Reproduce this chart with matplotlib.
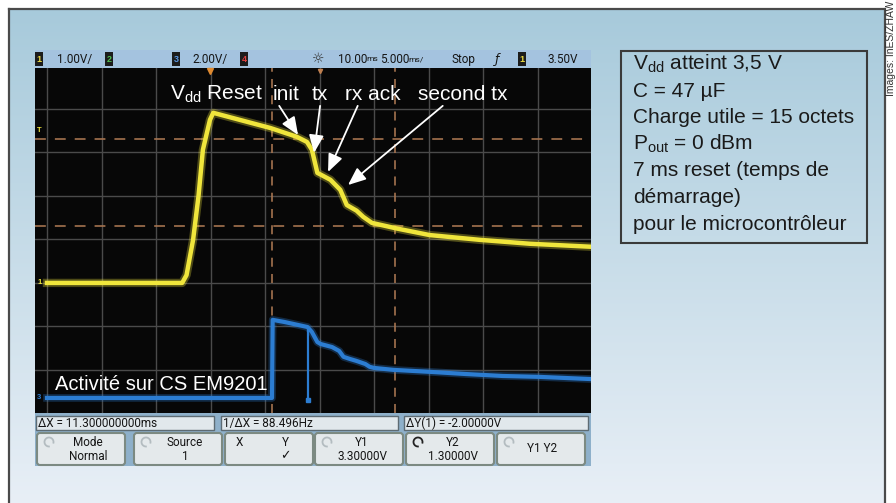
import numpy as np
import matplotlib
matplotlib.use('Agg')
import matplotlib.pyplot as plt
from matplotlib.patches import Rectangle, FancyBboxPatch, Arc

plt.rcParams['font.family'] = ['Liberation Sans', 'DejaVu Sans']
plt.rcParams['mathtext.fontset'] = 'custom'
plt.rcParams['mathtext.rm'] = 'Liberation Sans'
plt.rcParams['mathtext.it'] = 'Liberation Sans:italic'

# ---------------- data (time in ms, volts) ----------------
# Channel 1 : Vdd (1 V/div)
t_vdd = [0, 12.4, 12.8, 13.4, 13.9, 14.3, 14.95, 15.25, 20.5, 22.9, 23.85, 24.3,
         24.8, 26.0, 26.9, 27.5, 28.4, 29.0, 29.8, 32.1, 35.1, 39.7, 44.3, 50]
v_vdd = [0, 0, 0.18, 0.99, 2.0, 3.06, 3.75, 3.91, 3.56, 3.36, 3.24, 3.06,
         2.53, 2.37, 2.14, 1.79, 1.66, 1.52, 1.38, 1.25, 1.10, 0.99, 0.90, 0.83]
# Channel 3 : CS EM9201 (2 V/div)
t_cs = [0, 20.64, 20.7, 21.8, 23.9, 24.3, 24.8, 25.1, 26.15, 26.8, 27.2, 27.8,
        28.4, 29.2, 29.6, 30.0, 31.8, 35.1, 38.4, 41.8, 45.1, 49.8]
v_cs = [0, 0, 3.59, 3.49, 3.26, 3.03, 2.57, 2.48, 2.34, 2.16, 1.89, 1.79,
        1.70, 1.56, 1.43, 1.38, 1.29, 1.20, 1.10, 1.01, 0.97, 0.87]
cs_glitch_t = 23.9
cs_glitch_v = -0.1
cs_volts_per_div = 2.0
cs_ground_div = -2.644
cursor_x = [20.64, 31.94]
cursor_y = [3.3, 1.3]
trigger_t = 14.95
trigger_level = 3.5

header_texts = ['1.00V/', '2.00V/', 'Stop', '3.50V']
header_times = [('10.00', 'ms'), ('5.000', 'ms/')]
readouts = ['\u0394X = 11.300000000ms', '1/\u0394X = 88.496Hz', '\u0394Y(1) = -2.00000V']
buttons = [('Mode', 'Normal'), ('Source', '1'), ('X', 'Y'), ('Y1', '3.30000V'),
           ('Y2', '1.30000V'), ('Y1 Y2', '')]
labels = ['init', 'tx', 'rx ack', 'second tx']
label_tips = [(23.03, 3.40), (24.50, 2.99), (25.78, 2.55), (27.61, 2.25)]
label_tails = [(21.3, 4.07), (25.05, 4.07), (28.5, 4.07), (36.3, 4.07)]
info_lines = [r'$\mathregular{V_{dd}}$ atteint 3,5 V', 'C = 47 \u00b5F',
              'Charge utile = 15 octets', r'$\mathregular{P_{out}}$ = 0 dBm',
              '7 ms reset (temps de', 'd\u00e9marrage)', 'pour le microcontr\u00f4leur']

# ---------------- figure ----------------
W, H = 896, 503
fig = plt.figure(figsize=(W / 100, H / 100), dpi=100)
fig.patch.set_facecolor('white')


def rect(x0, y0, x1, y1):
    return [x0 / W, 1 - y1 / H, (x1 - x0) / W, (y1 - y0) / H]


bg = fig.add_axes([0, 0, 1, 1])
bg.set_xlim(0, W)
bg.set_ylim(H, 0)
bg.axis('off')

c0 = np.array([0.655, 0.792, 0.859])
c1 = np.array([0.910, 0.937, 0.965])
f = np.linspace(0, 1, 256)[:, None]
grad = (c0[None, :] * (1 - f) + c1[None, :] * f)[:, None, :]
bg.imshow(grad, extent=(9, 884, 503, 8), aspect='auto', interpolation='bilinear')
fc = '#4a4a4a'
bg.plot([9, 9], [503, 8.5], color=fc, lw=1.6)
bg.plot([9, 884], [8.5, 8.5], color=fc, lw=1.6)
bg.plot([884.5, 884.5], [8.5, 503], color=fc, lw=1.6)
bg.text(891, 48, 'Images: InES/ZHAW', rotation=90, ha='center', va='center',
        fontsize=7.5, color='#333333')

# header bar
bg.add_patch(Rectangle((35, 50), 556, 18, fc='#a4c3df', ec='none'))
hfont = dict(family=['Roboto', 'DejaVu Sans'], fontsize=8.5, color='#151515',
             va='center')
for (x0, d, c) in [(35, '1', '#e8d840'), (105, '2', '#50c050'),
                   (172, '3', '#5a9ae8'), (240, '4', '#e04040'),
                   (518, '1', '#e8d840')]:
    bg.add_patch(Rectangle((x0, 52), 8, 14, fc='#1c1c1c', ec='none'))
    bg.text(x0 + 4, 59.5, d, ha='center', va='center', fontsize=6.5,
            color=c, fontweight='bold')
for x, s in zip([57, 192, 452, 547], header_texts):
    bg.text(x, 59, s, ha='left', **hfont)
for x, (num, unit) in zip([338, 380], header_times):
    bg.text(x, 59, num, ha='left', **hfont)
    bg.text(x + 28, 59, unit, ha='left', va='center', fontsize=6,
            family=['Roboto', 'DejaVu Sans'], color='#151515')
bg.text(318, 59, '\u263c', ha='center', va='center', fontsize=10,
        family='DejaVu Sans', color='#333333')
bg.text(497, 59, '\u0192', ha='center', va='center', fontsize=9,
        family='DejaVu Sans', color='#151515', style='italic')

# bottom panel
bg.add_patch(Rectangle((35, 413), 556, 53, fc='#8eb0ca', ec='none'))
for (x0, x1), s in zip([(36, 214), (221, 398), (404, 588)], readouts):
    bg.add_patch(Rectangle((x0, 416), x1 - x0, 14, fc='#e1e8ec', ec='#5d6b73', lw=1))
    bg.text(x0 + 2, 423.5, s, ha='left', **hfont)
bxs = [37, 134, 225, 315, 406, 497]
for i, (x0, (l1, l2)) in enumerate(zip(bxs, buttons)):
    bg.add_patch(FancyBboxPatch((x0, 433), 88, 32,
                                boxstyle='round,pad=0,rounding_size=3',
                                fc='#e4e9eb', ec='#7c8a82', lw=1.5))
    if i == 2:
        bg.text(x0 + 14, 443, l1, ha='center', **hfont)
        bg.text(x0 + 60, 443, l2, ha='center', **hfont)
        bg.text(x0 + 60, 456, '\u2713', ha='center', va='center', fontsize=9,
                family='DejaVu Sans', color='#151515')
        continue
    ic = '#222222' if i == 4 else '#b3bcc0'
    bg.add_patch(Arc((x0 + 12, 442), 9, 9, theta1=80, theta2=380, color=ic, lw=1.3))
    if l2:
        cx = x0 + 47 if i >= 3 else x0 + 51
        bg.text(cx, 443, l1, ha='center', **hfont)
        bg.text(cx, 456, l2, ha='center', **hfont)
    else:
        bg.text(x0 + 45, 449, l1, ha='center', **hfont)

# info box
bg.add_patch(Rectangle((621, 51), 246, 192, fill=False, ec='#3a3a3a', lw=1.5))
for i, s in enumerate(info_lines):
    bg.text(633, 70 + 26.6 * i, s, ha='left', va='baseline', fontsize=15,
            color='#1a1a1a')

# ---------------- scope screen ----------------
sc = fig.add_axes(rect(35, 68, 591, 413))
sc.set_facecolor('#070707')
sc.set_xlim(-1.1, 49.9)
sc.set_ylim(-2.99, 4.94)
sc.set_xticks([])
sc.set_yticks([])
for s in sc.spines.values():
    s.set_visible(False)
for x in np.arange(0, 50, 5):
    sc.axvline(x, color='#4a4a4a', lw=1.0, zorder=1)
for y in range(-2, 5):
    sc.axhline(y, color='#4a4a4a', lw=1.0, zorder=1)
cur_c = '#a87550'
for x in cursor_x:
    sc.axvline(x, color=cur_c, lw=1.3, ls=(0, (5, 4)), zorder=2, alpha=0.9)
for y in cursor_y:
    sc.axhline(y, color=cur_c, lw=1.3, ls=(0, (6, 5)), zorder=2, alpha=0.9)

yel = '#f0e63c'
sc.plot(t_vdd, v_vdd, color=yel, lw=6, alpha=0.3, zorder=3, solid_joinstyle='round')
sc.plot(t_vdd, v_vdd, color=yel, lw=3.2, zorder=4, solid_joinstyle='round')

blue = '#2c7dd2'
v_cs_plot = cs_ground_div + np.array(v_cs) / cs_volts_per_div
sc.plot(t_cs, v_cs_plot, color=blue, lw=5.5, alpha=0.3, zorder=3)
sc.plot(t_cs, v_cs_plot, color=blue, lw=3.0, zorder=4)
gtop = np.interp(cs_glitch_t, t_cs, v_cs_plot)
gbot = cs_ground_div + cs_glitch_v / cs_volts_per_div
sc.plot([cs_glitch_t, cs_glitch_t], [gtop, gbot], color=blue, lw=1.6, zorder=4)
sc.plot([cs_glitch_t], [gbot], 's', color=blue, ms=2.5, zorder=4)

# markers
sc.plot([trigger_t], [4.86], 'v', color='#e08a30', ms=5, zorder=5, clip_on=False)
sc.plot([25], [4.88], 'v', color='#c08050', ms=3, zorder=5, clip_on=False)
sc.text(-0.7, trigger_level, 'T', color=yel, fontsize=5.5, fontweight='bold',
        va='center', ha='center')
sc.text(-0.7, 0, '1', color=yel, fontsize=5.5, fontweight='bold', va='center', ha='center')
sc.text(-0.7, cs_ground_div, '3', color=blue, fontsize=5.5, fontweight='bold',
        va='center', ha='center')

# annotations
tk = dict(color='white', fontsize=15, va='baseline', ha='left', transform=bg.transData)
sc.text(170, 100, r'$\mathregular{V_{dd}}$ Reset', **tk)
for x, s in zip([273, 312, 345, 418], labels):
    sc.text(x, 100, s, **tk)
for tip, tail in zip(label_tips, label_tails):
    sc.annotate('', xy=tip, xytext=tail,
                arrowprops=dict(arrowstyle='-|>,head_length=0.6,head_width=0.25',
                                color='white', lw=1.3, mutation_scale=18,
                                shrinkA=0, shrinkB=0), zorder=6)
tk['fontsize'] = 14.5
sc.text(55, 390, 'Activit\u00e9 sur CS EM9201', **tk)

fig.savefig('out.png', dpi=100)
